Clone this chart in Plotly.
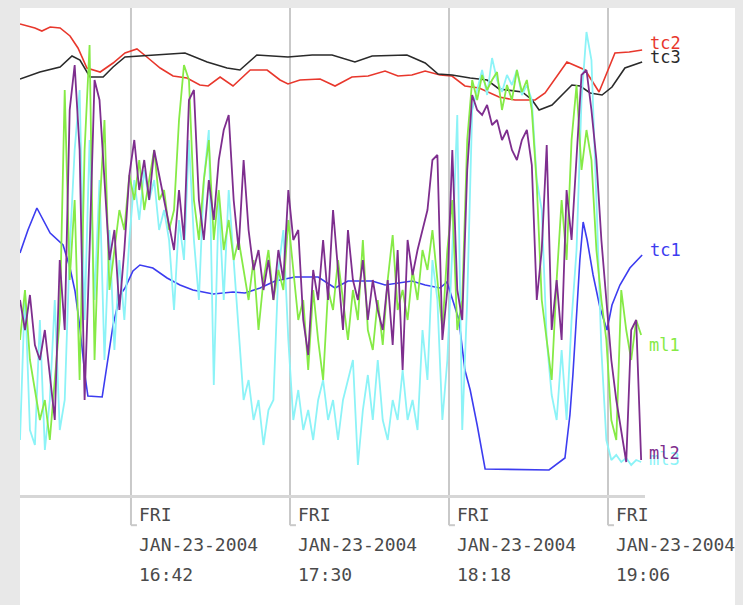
import datetime as dt
import pandas as pd
import plotly.graph_objects as go

BASE = dt.datetime(2004, 1, 23, 16, 0, 0)

# ---- smooth series: minutes after 16:00 and values ----
tc1_min = [8.5, 10.9, 13.6, 17.6, 21.5, 23.6, 25.1, 26.6, 28.1, 29.0, 33.3, 35.1, 36.6, 38.7, 40.2,
           42.6, 44.7, 48.6, 52.9, 56.8, 60.7, 66.8, 72.8, 76.4, 81.0, 85.5, 91.5, 98.5, 103.6, 107.5,
           114.8, 118.7, 126.8, 130.8, 135.3, 137.4, 139.2, 141.0, 142.8, 144.4, 146.5, 148.9, 168.2,
           173.0, 174.5, 175.4, 176.6, 177.5, 178.5, 179.7, 181.5, 183.6, 185.7, 187.2, 189.6, 192.6, 196.3]
tc1_val = [48.4, 53, 57.4, 52.4, 50, 45.4, 40.8, 33.4, 24, 19.8, 19.6, 27.4, 34, 40, 41.4,
           44.8, 46, 45.4, 43.4, 42, 41, 40.2, 40.6, 40.4, 41.4, 42.8, 43.6, 43.6, 41.4, 42.8,
           42.8, 42, 42.8, 42, 41.4, 42.6, 39, 35, 25, 21, 14, 5.2, 5,
           7.4, 16, 24, 37, 47, 54.6, 51, 44, 37.4, 33, 38, 42, 45.4, 48]

tc2_min = [8.5, 13.0, 15.1, 17.6, 20.6, 23.6, 26.0, 28.7, 32.7, 36.6, 40.2, 43.8, 46.8, 50.8, 54.7,
           58.9, 62.8, 65.3, 68.9, 72.8, 78.0, 83.1, 87.0, 89.4, 93.0, 99.1, 103.6, 108.7, 113.6, 118.7,
           122.6, 126.8, 130.8, 135.3, 138.9, 142.8, 147.1, 153.1, 157.9, 164.0, 167.0, 173.6, 179.1,
           183.3, 188.1, 192.4, 196.3]
tc2_val = [94.2, 93.4, 92.8, 93.6, 93.4, 91.8, 89.4, 85.4, 84.6, 86.4, 88.4, 89.2, 87.6, 85.4, 83.8,
           83.4, 82, 81.8, 83.6, 81.8, 85, 85, 83, 82.2, 83, 83.2, 81.8, 83.6, 83.8, 84.8,
           83.8, 84, 84.8, 84, 83.8, 81.8, 81.4, 79.6, 79, 79, 80.4, 86.6, 85,
           80.6, 88.4, 88.6, 89]

tc3_min = [8.5, 14.5, 20.6, 24.2, 26.6, 29.6, 33.6, 36.6, 40.2, 44.7, 58.3, 65.0, 71.0, 74.9, 80.0,
           89.4, 96.7, 102.7, 109.6, 114.8, 125.3, 130.8, 134.7, 138.9, 144.4, 149.5, 153.1, 160.1,
           163.1, 165.2, 169.1, 175.1, 177.6, 180.6, 184.2, 187.2, 191.1, 196.3]
tc3_val = [83.2, 84.6, 85.6, 87.8, 87, 83.6, 83.6, 85.6, 87.6, 87.8, 88.4, 86.6, 85.4, 85, 88,
           87.6, 88, 88, 86.6, 87.8, 88, 86.4, 84.2, 84, 83.4, 83, 81.2, 80.6,
           79, 77, 78, 82, 81.8, 80.4, 80, 81.6, 85.4, 86.6]

# ---- noisy series sampled every 90 s from 16:08:30 ----
ml_times = pd.date_range("2004-01-23 16:08:30", periods=126, freq="90s")

ml1_val = [31, 41, 27, 21, 15, 19, 11, 23, 35, 81,
           43, 59, 23, 69, 90, 27, 57, 75, 41, 49,
           57, 53, 64, 59, 67, 57, 63, 69, 59, 61,
           53, 57, 75, 86, 83, 59, 51, 63, 71, 51,
           61, 49, 55, 47, 51, 45, 39, 47, 33, 43,
           49, 39, 45, 41, 55, 45, 35, 39, 25, 41,
           31, 23, 41, 37, 47, 39, 31, 41, 35, 51,
           33, 29, 39, 30, 43, 52, 37, 41, 35, 45,
           39, 49, 45, 53, 43, 33, 49, 59, 33, 39,
           71, 83, 79, 84, 81, 83, 84.6, 77, 82, 79,
           85, 80.6, 83, 77, 62, 39, 31, 23, 43, 59,
           47, 71, 82, 65, 73, 67, 49, 39, 31, 15,
           11, 41, 33, 27, 35, 32]

ml2_val = [39, 33, 40, 30, 27, 33, 24, 15, 47, 33,
           77, 86, 69, 19, 49, 83, 79, 63, 47, 53,
           37, 49, 64, 71, 61, 67, 59, 69, 64, 59,
           54, 49, 61, 51, 79, 81, 59, 51, 63, 55,
           67, 73, 76, 59, 49, 67, 53, 45, 49, 41,
           47, 39, 49, 43, 61, 51, 53, 35, 28, 45,
           39, 51, 39, 57, 45, 33, 53, 43, 39, 47,
           35, 43, 37, 33, 43, 30, 49, 25, 51, 44,
           49, 53, 57, 67, 68, 31, 41, 69, 41, 35,
           65, 80, 77, 76, 78, 74, 75, 71, 73, 69,
           67, 71, 73, 66, 39, 49, 70, 33, 43, 31,
           61, 51, 67, 84, 85, 77, 67, 51, 39, 27,
           19, 13, 6.6, 33, 35, 7]

ml3_val = [11, 41, 13, 10, 35, 9, 19, 39, 13, 19,
           49, 69, 81, 35, 71, 39, 63, 27, 53, 29,
           47, 35, 51, 63, 55, 65, 59, 63, 53, 57,
           51, 37, 55, 47, 71, 51, 39, 63, 73, 22,
           59, 39, 61, 47, 33, 19, 23, 15, 19, 10,
           17, 19, 45, 53, 31, 15, 21, 13, 17, 11,
           19, 23, 15, 19, 11, 19, 23, 27, 6, 17,
           24, 15, 27, 15, 11, 19, 15, 25, 15, 19,
           13, 33, 23, 47, 39, 15, 27, 49, 76, 13,
           39, 77, 81, 85, 80, 87.4, 83, 80.6, 84, 82,
           85, 80, 82, 79, 63, 57, 31, 20, 15, 29,
           15, 35, 49, 79, 92.6, 87, 59, 29, 11, 7,
           8, 6.6, 7.4, 6, 7, 6.6]

tick_times = ["2004-01-23 16:42", "2004-01-23 17:30", "2004-01-23 18:18", "2004-01-23 19:06"]
x_range = ["2004-01-23 16:08:30", "2004-01-23 19:17:10"]
y_range = [0, 97.4]


def to_time(mins):
    return [BASE + dt.timedelta(minutes=m) for m in mins]


series = [
    # name, x, y, color, label yshift, width
    ("tc1", to_time(tc1_min), tc1_val, "#3c3cf0", 5, 1.6),
    ("tc2", to_time(tc2_min), tc2_val, "#e8372c", 7, 1.6),
    ("tc3", to_time(tc3_min), tc3_val, "#2a2a2a", 5, 1.6),
    ("ml3", list(ml_times), ml3_val, "#8cf3f7", 3, 1.8),
    ("ml1", list(ml_times), ml1_val, "#86ea46", -10, 1.8),
    ("ml2", list(ml_times), ml2_val, "#7e2e8e", 7, 1.8),
]

fig = go.Figure()
MONO = "DejaVu Sans Mono"

for name, xs, ys, col, ysh, w in series:
    fig.add_trace(go.Scatter(x=xs, y=ys, mode="lines", name=name,
                             line=dict(color=col, width=w), showlegend=False))
    fig.add_annotation(x=xs[-1], y=ys[-1], xref="x", yref="y", text=name,
                       showarrow=False, xanchor="left", yanchor="middle",
                       xshift=6, yshift=ysh, font=dict(family=MONO, size=17, color=col))

# white drawing area on a light grey frame
fig.add_shape(type="rect", xref="paper", yref="paper", x0=0, x1=1.1488, y0=-0.2259, y1=1,
              fillcolor="white", line=dict(width=0), layer="below")

for t in tick_times:
    tt = pd.Timestamp(t)
    fig.add_shape(type="line", xref="x", yref="paper", x0=tt, x1=tt, y0=-0.062, y1=1,
                  line=dict(color="#c9c9c9", width=2), layer="below")
    fig.add_shape(type="line", xref="x", yref="paper", x0=tt, x1=tt + pd.Timedelta(minutes=1.8),
                  y0=-0.062, y1=-0.062, line=dict(color="#c9c9c9", width=2), layer="below")
    lines = [tt.strftime("%a").upper()[:3], tt.strftime("%b-%d-%Y").upper(), tt.strftime("%H:%M")]
    for k, txt in enumerate(lines):
        fig.add_annotation(x=tt, y=-0.041 - 0.0616 * k, xref="x", yref="paper", text=txt,
                           showarrow=False, xanchor="left", yanchor="middle", xshift=6,
                           font=dict(family=MONO, size=18, color="#4a4a4a"))

fig.update_layout(
    width=735, height=597,
    margin=dict(l=12, r=98, t=0, b=110),
    paper_bgcolor="#e8e8e8", plot_bgcolor="white",
    xaxis=dict(type="date", range=x_range, showgrid=False, zeroline=False,
               showticklabels=False, ticks="", showline=True, linecolor="#d6d6d6", linewidth=3),
    yaxis=dict(range=y_range, visible=False, showgrid=False, zeroline=False),
    hovermode=False,
)

fig.write_html(
    "out.html",
    post_script="document.documentElement.style.background='#e8e8e8';"
                "document.body.style.background='#e8e8e8';",
)
